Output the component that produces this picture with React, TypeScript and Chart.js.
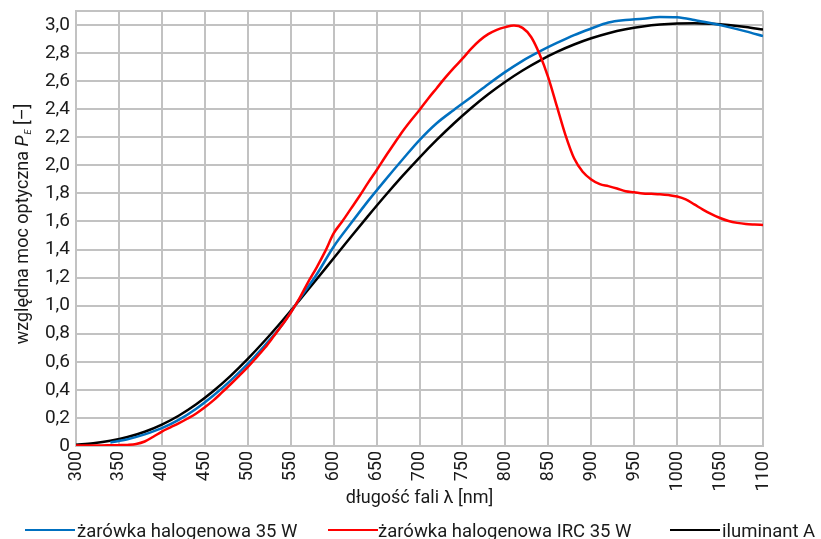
import React, { useEffect, useRef } from "react";
import { Chart, registerables } from "chart.js";

Chart.register(...registerables);

// ---- data ----
const lambdaA = [
  300, 320, 340, 360, 380, 400, 420, 440, 460, 480, 500, 520, 540, 560, 580, 600, 620, 640, 660, 680, 700,
  720, 740, 760, 780, 800, 820, 840, 860, 880, 900, 920, 940, 960, 980, 1000, 1020, 1040, 1060, 1080, 1100,
];
const illuminantA = [
  0.0096, 0.02, 0.0372, 0.0637, 0.1016, 0.1525, 0.2177, 0.2976, 0.3921, 0.5002, 0.6207, 0.7517, 0.8912,
  1.0369, 1.1866, 1.3381, 1.4892, 1.6381, 1.7831, 1.9228, 2.0558, 2.1813, 2.2985, 2.4068, 2.506, 2.5957,
  2.676, 2.7468, 2.8086, 2.8614, 2.9056, 2.9415, 2.9696, 2.9903, 3.0042, 3.0115, 3.0129, 3.0087, 2.9995,
  2.9857, 2.9675,
];

const lambdaHalogen = [
  340, 360, 380, 400, 420, 440, 460, 480, 500, 520, 540, 560, 580, 600, 620, 640, 660, 680, 700, 720, 740,
  760, 780, 800, 820, 840, 860, 880, 900, 920, 940, 960, 980, 1000, 1020, 1040, 1060, 1080, 1100,
];
const halogen35 = [
  0.025, 0.048, 0.083, 0.127, 0.188, 0.266, 0.36, 0.466, 0.585, 0.718, 0.862, 1.045, 1.22, 1.42, 1.585,
  1.745, 1.895, 2.04, 2.18, 2.3, 2.395, 2.485, 2.578, 2.666, 2.745, 2.812, 2.872, 2.928, 2.975, 3.018,
  3.036, 3.045, 3.058, 3.055, 3.036, 3.012, 2.985, 2.955, 2.921,
];

const lambdaIrc = [
  300, 310, 320, 330, 340, 350, 360, 370, 380, 390, 400, 410, 420, 430, 440, 450, 460, 470, 480, 490, 500,
  510, 520, 530, 540, 550, 560, 570, 580, 590, 600, 610, 620, 630, 640, 650, 660, 670, 680, 690, 700, 710,
  720, 730, 740, 750, 760, 770, 780, 790, 800, 810, 820, 830, 840, 850, 860, 870, 880, 890, 900, 910, 920,
  930, 940, 950, 960, 970, 980, 990, 1000, 1010, 1020, 1030, 1040, 1050, 1060, 1070, 1080, 1090, 1100,
];
const halogenIrc35 = [
  0.004, 0.004, 0.004, 0.004, 0.005, 0.006, 0.008, 0.014, 0.032, 0.066, 0.103, 0.133, 0.163, 0.196, 0.232,
  0.276, 0.325, 0.382, 0.44, 0.5, 0.562, 0.63, 0.7, 0.78, 0.862, 0.95, 1.05, 1.165, 1.27, 1.385, 1.515, 1.6,
  1.69, 1.78, 1.875, 1.965, 2.06, 2.15, 2.24, 2.32, 2.395, 2.475, 2.55, 2.625, 2.695, 2.76, 2.83, 2.89,
  2.935, 2.966, 2.985, 2.996, 2.98, 2.915, 2.79, 2.625, 2.42, 2.215, 2.05, 1.955, 1.9, 1.866, 1.852, 1.835,
  1.815, 1.808, 1.8, 1.797, 1.794, 1.788, 1.778, 1.758, 1.722, 1.685, 1.652, 1.625, 1.603, 1.59, 1.582,
  1.578, 1.575,
];

const yTicks = [0, 0.2, 0.4, 0.6, 0.8, 1.0, 1.2, 1.4, 1.6, 1.8, 2.0, 2.2, 2.4, 2.6, 2.8, 3.0, 3.1];
const seriesLabels = ["żarówka halogenowa 35 W", "żarówka halogenowa IRC 35 W", "iluminant A"];
const seriesColors = ["#0070C0", "#FF0000", "#000000"];

const FONT = "Roboto, 'Noto Sans', sans-serif";
const TEXT = "#1a1a1a";
const GRID = "#c2c2c2";

const toPoints = (xs: number[], ys: number[]) => xs.map((x, i) => ({ x, y: ys[i] }));

const yTitlePlugin = {
  id: "yTitle",
  afterDraw(chart: any) {
    const ctx = chart.ctx;
    const parts = [
      { t: "względna moc optyczna ", f: `18px ${FONT}`, dy: 0 },
      { t: "P", f: `italic 18px ${FONT}`, dy: 0 },
      { t: "E", f: `italic 9px ${FONT}`, dy: 3 },
      { t: " [–]", f: `18px ${FONT}`, dy: 0 },
    ];
    ctx.save();
    let total = 0;
    const widths = parts.map((p) => {
      ctx.font = p.f;
      const w = ctx.measureText(p.t).width;
      total += w;
      return w;
    });
    const cy = (chart.chartArea.top + chart.chartArea.bottom) / 2 - 4;
    ctx.translate(28, cy);
    ctx.rotate(-Math.PI / 2);
    ctx.fillStyle = TEXT;
    ctx.textBaseline = "alphabetic";
    ctx.textAlign = "left";
    let x = -total / 2;
    parts.forEach((p, i) => {
      ctx.font = p.f;
      ctx.fillText(p.t, x, p.dy);
      x += widths[i] + (p.t === "P" ? 1 : 0);
    });
    ctx.restore();
  },
};

const legendPlugin = {
  id: "customLegend",
  afterDraw(chart: any) {
    const ctx = chart.ctx;
    const slots = [
      { lineX: 25, textX: 77 },
      { lineX: 328, textX: 378 },
      { lineX: 670, textX: 722 },
    ];
    ctx.save();
    ctx.font = `18.5px ${FONT}`;
    ctx.textBaseline = "alphabetic";
    ctx.textAlign = "left";
    chart.data.datasets.forEach((ds: any, i: number) => {
      const s = slots[i];
      ctx.strokeStyle = ds.borderColor;
      ctx.lineWidth = 2;
      ctx.beginPath();
      ctx.moveTo(s.lineX, 530);
      ctx.lineTo(s.lineX + 50, 530);
      ctx.stroke();
      ctx.fillStyle = TEXT;
      ctx.fillText(ds.label, s.textX, 537);
    });
    ctx.restore();
  },
};

export default function App() {
  const ref = useRef<HTMLCanvasElement | null>(null);

  useEffect(() => {
    document.body.style.margin = "0";
    const canvas = ref.current!;
    const chart = new Chart(canvas, {
      type: "line",
      data: {
        datasets: [
          {
            label: seriesLabels[0],
            data: toPoints(lambdaHalogen, halogen35),
            borderColor: seriesColors[0],
            backgroundColor: seriesColors[0],
            borderWidth: 2.5,
            pointRadius: 0,
            cubicInterpolationMode: "monotone",
            order: 1,
          },
          {
            label: seriesLabels[1],
            data: toPoints(lambdaIrc, halogenIrc35),
            borderColor: seriesColors[1],
            backgroundColor: seriesColors[1],
            borderWidth: 2.5,
            pointRadius: 0,
            cubicInterpolationMode: "monotone",
            order: 0,
          },
          {
            label: seriesLabels[2],
            data: toPoints(lambdaA, illuminantA),
            borderColor: seriesColors[2],
            backgroundColor: seriesColors[2],
            borderWidth: 2.5,
            pointRadius: 0,
            cubicInterpolationMode: "monotone",
            order: 2,
          },
        ],
      },
      options: {
        animation: false,
        responsive: false,
        devicePixelRatio: 1,
        layout: { padding: { top: 11, right: 58, bottom: 30, left: 0 } },
        plugins: {
          legend: { display: false },
          tooltip: { enabled: false },
        },
        scales: {
          x: {
            type: "linear",
            min: 300,
            max: 1100,
            ticks: {
              stepSize: 50,
              minRotation: 90,
              maxRotation: 90,
              padding: 5,
              color: TEXT,
              font: { family: FONT, size: 18 },
              autoSkip: false,
              callback: (v: any) => String(v),
            },
            grid: { color: GRID, lineWidth: 2, drawTicks: false },
            border: { color: GRID, width: 2 },
            title: {
              display: true,
              text: "długość fali λ [nm]",
              color: TEXT,
              font: { family: FONT, size: 18 },
              padding: { top: 0, bottom: 0 },
            },
            afterFit: (scale: any) => {
              scale.height = 63;
              scale.paddingLeft = 0;
              scale.paddingRight = 0;
            },
          },
          y: {
            type: "linear",
            min: 0,
            max: 3.1,
            afterBuildTicks: (scale: any) => {
              scale.ticks = yTicks.map((v) => ({ value: v }));
            },
            ticks: {
              padding: 6,
              color: TEXT,
              font: { family: FONT, size: 19 },
              autoSkip: false,
              callback: (v: any) => {
                const n = Number(v);
                if (n > 3.05) return "";
                if (n === 0) return "0";
                return n.toFixed(1).replace(".", ",");
              },
            },
            grid: { color: GRID, lineWidth: 2, drawTicks: false },
            border: { color: GRID, width: 2 },
            afterFit: (scale: any) => {
              scale.width = 76;
              scale.paddingTop = 0;
              scale.paddingBottom = 0;
            },
          },
        },
      },
      plugins: [yTitlePlugin, legendPlugin],
    } as any);
    return () => chart.destroy();
  }, []);

  return (
    <div style={{ width: 821, height: 539 }}>
      <canvas ref={ref} width={821} height={539} style={{ display: "block" }} />
    </div>
  );
}
